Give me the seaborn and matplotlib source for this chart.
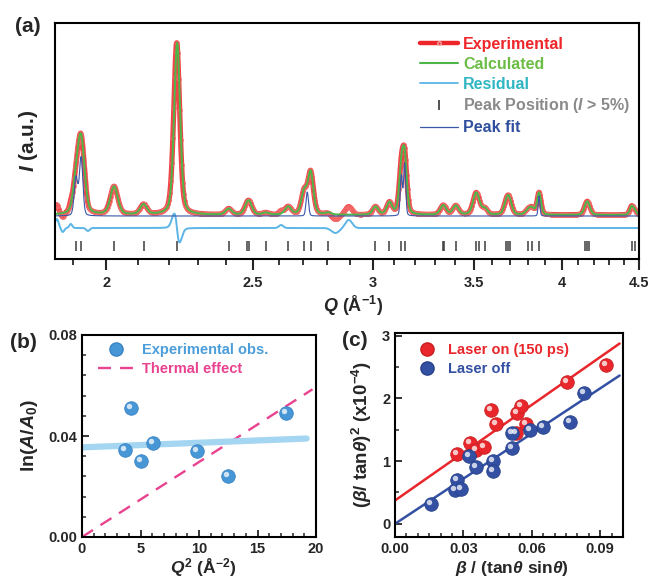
import numpy as np
import matplotlib
matplotlib.use("Agg")
import matplotlib.pyplot as plt
import matplotlib.transforms as mtrans
from matplotlib.lines import Line2D
from matplotlib.ticker import FixedLocator, FixedFormatter, NullFormatter, MultipleLocator
import seaborn as sns

# ---------------- panel (a) data: diffraction peaks ----------------
q_range = [1.85, 4.5]
peak_q = [1.910, 1.925, 2.024, 2.117, 2.2265, 2.410, 2.477, 2.487, 2.550, 2.638,
          2.703, 2.730, 2.804, 3.013, 3.078, 3.134, 3.150, 3.337, 3.346, 3.405,
          3.510, 3.525, 3.559, 3.675, 3.686, 3.697, 3.800, 3.823, 3.865, 4.147,
          4.160, 4.172, 4.449, 4.470]
peak_h = [25, 74, 28, 10, 172, 6, 6, 10, 2, 8,
          22, 42, 2, 8, 12, 41, 52, 6, 4, 9,
          19, 5, 6, 5, 11, 7, 4, 6, 22, 4,
          9, 3, 8, 4]
peak_w = [0.021, 0.024, 0.027, 0.025, 0.024, 0.027, 0.026, 0.026, 0.03, 0.03,
          0.027, 0.027, 0.03, 0.03, 0.03, 0.025, 0.025, 0.033, 0.033, 0.036,
          0.038, 0.033, 0.033, 0.033, 0.036, 0.033, 0.036, 0.036, 0.027, 0.033,
          0.033, 0.033, 0.03, 0.03]
calc_peak_q = list(peak_q)
calc_peak_q[4] = 2.2280
# features of the measured curve not in the calculation
extra_q = [1.855, 1.872, 1.895, 1.945, 2.610, 2.835, 2.893]
extra_h = [9, -4, 4, -3, 3, -5, 8]
extra_w = [0.012, 0.01, 0.01, 0.012, 0.02, 0.04, 0.035]
# individual peak-fit components
fit_q = [1.910, 1.925, 2.716, 3.134, 3.150, 3.865]
fit_h = [38, 58, 24, 40, 52, 20]
fit_w = [0.012, 0.012, 0.012, 0.012, 0.012, 0.012]
resid_offset = -13
fit_base = -1
tick_row_y = -31
a_major = [2, 2.5, 3, 3.5, 4, 4.5]
a_major_labels = ["2", "2.5", "3", "3.5", "4", "4.5"]
a_minor = [1.9, 2.1, 2.2, 2.3, 2.4, 2.6, 2.7, 2.8, 2.9, 3.1, 3.2, 3.3, 3.4,
           3.6, 3.7, 3.8, 3.9, 4.1, 4.2, 4.3, 4.4]

# ---------------- panel (b) data ----------------
b_q2 = [3.70, 4.15, 5.04, 6.09, 9.82, 12.46, 17.41]
b_ln = [0.0343, 0.0510, 0.0302, 0.0372, 0.0341, 0.0243, 0.0490]
b_fit_x = [0, 19.2]
b_fit_y = [0.0355, 0.0390]
b_th_x = [0, 19.7]
b_th_y = [0, 0.0585]

# ---------------- panel (c) data ----------------
c_on_x = [0.0271, 0.0329, 0.0354, 0.0391, 0.0419, 0.0442, 0.0530, 0.0537, 0.0553, 0.0575, 0.0754, 0.0926]
c_on_y = [1.117, 1.287, 1.180, 1.223, 1.819, 1.596, 1.447, 1.766, 1.883, 1.596, 2.255, 2.527]
c_off_x = [0.0158, 0.0263, 0.0271, 0.0288, 0.0326, 0.0354, 0.0429, 0.0432, 0.0512, 0.0512,
           0.0590, 0.0651, 0.0768, 0.0830]
c_off_y = [0.319, 0.532, 0.702, 0.553, 1.074, 0.899, 0.995, 0.835, 1.447, 1.207,
           1.489, 1.537, 1.617, 2.085]
c_on_fit_x = [0, 0.0985]
c_on_fit_y = [0.372, 2.872]
c_off_fit_x = [0, 0.0985]
c_off_fit_y = [0.0, 2.362]

# ---------------- style ----------------
sns.set_theme(style="ticks")
plt.rcParams["font.family"] = ["Liberation Sans", "DejaVu Sans"]
plt.rcParams["font.weight"] = "bold"
plt.rcParams["axes.labelweight"] = "bold"
plt.rcParams["mathtext.fontset"] = "custom"
plt.rcParams["mathtext.rm"] = "Liberation Sans:bold"
plt.rcParams["mathtext.bf"] = "Liberation Sans:bold"
plt.rcParams["mathtext.it"] = "Liberation Sans:italic:bold"
plt.rcParams["axes.linewidth"] = 1.5
plt.rcParams["axes.edgecolor"] = "black"

W, H = 651, 582
fig = plt.figure(figsize=(W / 100, H / 100), dpi=100)


def rect(l, t, r, b):
    return [l / W, 1 - b / H, (r - l) / W, (b - t) / H]


def pv(q, c, h, w, eta=0.35):
    d = (q - c) / w
    return h * ((1 - eta) * np.exp(-4 * np.log(2) * d ** 2) + eta / (1 + 4 * d ** 2))


# ---------------- panel (a) ----------------
ax = fig.add_axes(rect(55, 23, 639, 259))
grid = np.geomspace(q_range[0], q_range[1], 1800)
calc = np.zeros_like(grid)
exp_ = np.zeros_like(grid)
for c, h, w in zip(calc_peak_q, peak_h, peak_w):
    calc += pv(grid, c, h, w)
for c, h, w in zip(peak_q, peak_h, peak_w):
    exp_ += pv(grid, c, h, w)
for c, h, w in zip(extra_q, extra_h, extra_w):
    exp_ += pv(grid, c, h, w, eta=0.0)
resid = exp_ - calc + resid_offset
fitc = np.full_like(grid, fit_base)
for c, h, w in zip(fit_q, fit_h, fit_w):
    fitc += pv(grid, c, h, w, eta=0.2)

red = "#ee2529"
sns.lineplot(x=grid, y=exp_, ax=ax, color=red, lw=3.8, alpha=0.85, estimator=None, sort=False,
             marker="o", markersize=3.0, markevery=3, markerfacecolor="none",
             markeredgecolor="#f26b6b", markeredgewidth=0.6)
sns.lineplot(x=grid, y=calc, ax=ax, color="#4cb748", lw=1.4, estimator=None, sort=False)
sns.lineplot(x=grid, y=resid, ax=ax, color="#5bb5e6", lw=1.4, estimator=None, sort=False)
sns.lineplot(x=grid, y=fitc, ax=ax, color="#3a58a8", lw=0.8, estimator=None, sort=False)
sns.scatterplot(x=peak_q, y=[tick_row_y] * len(peak_q), ax=ax, marker="|", s=52,
                color="#3c3c3c", linewidth=1.1)

ax.set_xscale("log")
ax.set_xlim(*q_range)
ax.set_ylim(-44, 192)
ax.xaxis.set_major_locator(FixedLocator(a_major))
ax.xaxis.set_major_formatter(FixedFormatter(a_major_labels))
ax.xaxis.set_minor_locator(FixedLocator(a_minor))
ax.xaxis.set_minor_formatter(NullFormatter())
ax.set_yticks([])
ax.tick_params(axis="x", which="major", direction="out", length=8, width=1.5, labelsize=10.5, pad=4)
ax.tick_params(axis="x", which="minor", direction="out", length=4, width=1.3)
for t in ax.get_xticklabels():
    t.set_fontweight("bold")
ax.set_xlabel(r"$\mathit{Q}$ (Å$^{-1}$)", fontsize=13, va="center")
ax.xaxis.set_label_coords((353 - 55) / 584, (259 - 306) / 236)
ax.set_ylabel(r"$\mathit{I}$ (a.u.)", fontsize=15, va="center")
ax.yaxis.set_label_coords((29 - 55) / 584, 0.5)

handles = [
    Line2D([], [], color=red, lw=3.2, marker="o", markersize=2.5, markerfacecolor="none",
           markeredgecolor="#f5a0a0", markevery=[1]),
    Line2D([], [], color="#4cb748", lw=1.5),
    Line2D([], [], color="#5bb5e6", lw=1.3),
    Line2D([], [], color="#333333", lw=0, marker="|", markersize=7, markeredgewidth=1.2),
    Line2D([], [], color="#3a58a8", lw=0.9),
]
labels = ["Experimental", "Calculated", "Residual",
          r"Peak Position ($\mathit{I}$ > 5%)", "Peak fit"]
leg = ax.legend(handles, labels, loc="upper left", bbox_to_anchor=((420 - 55) / 584, 1 - (37 - 23) / 236),
                frameon=False, fontsize=11.5, handlelength=2.4, handletextpad=0.3,
                labelspacing=0.3, borderpad=0, borderaxespad=0,
                labelcolor=[red, "#6cbd45", "#2fb6c2", "#8a8a8a", "#2f4f9e"])

# ---------------- helpers for sphere-like markers ----------------
def spheres(axx, x, y, color, edge, s=95):
    sns.scatterplot(x=x, y=y, ax=axx, color=color, s=s, edgecolor=edge, linewidth=0.6, zorder=3)
    hl = mtrans.offset_copy(axx.transData, fig=fig, x=-2.0, y=2.0, units="dots")
    axx.scatter(x, y, s=s * 0.16, color="white", alpha=0.75, linewidths=0, transform=hl, zorder=4)


def style_small(axx):
    axx.tick_params(which="major", direction="in", length=5, width=1.3, labelsize=10.5,
                    top=False, right=False)
    axx.tick_params(which="minor", direction="in", length=3, width=1.1, top=False, right=False)
    for t in axx.get_xticklabels() + axx.get_yticklabels():
        t.set_fontweight("bold")


# ---------------- panel (b) ----------------
bx = fig.add_axes(rect(82, 335, 316, 537))
pink = "#e9428f"
sblue = "#4796d6"
sns.lineplot(x=b_th_x, y=b_th_y, ax=bx, color=pink, lw=1.7, dashes=False, linestyle=(0, (5.5, 3.8)))
sns.lineplot(x=b_fit_x, y=b_fit_y, ax=bx, color="#a5d6f1", lw=4.5)
spheres(bx, b_q2, b_ln, sblue, "#3a84c4")
bx.set_xlim(0, 20)
bx.set_ylim(0, 0.08)
bx.xaxis.set_major_locator(FixedLocator([0, 5, 10, 15, 20]))
bx.xaxis.set_minor_locator(MultipleLocator(1))
bx.yaxis.set_major_locator(FixedLocator([0, 0.04, 0.08]))
bx.yaxis.set_major_formatter(FixedFormatter(["0.00", "0.04", "0.08"]))
bx.yaxis.set_minor_locator(MultipleLocator(0.008))
style_small(bx)
bx.set_xlabel(r"$\mathit{Q}^{2}$ (Å$^{-2}$)", fontsize=12.5, va="center")
bx.xaxis.set_label_coords((203 - 82) / 234, (537 - 568) / 202)
bx.set_ylabel(r"ln($\mathit{A}$/$\mathit{A}_{0}$)", fontsize=14, va="center")
bx.yaxis.set_label_coords((30 - 82) / 234, 0.5)
hb = [Line2D([], [], lw=0, marker="o", markersize=9.5, color=sblue, markeredgecolor="#3a84c4"),
      Line2D([], [], color=pink, lw=1.7, linestyle=(0, (5.5, 3.8)))]
bx.legend(hb, ["Experimental obs.", "Thermal effect"], loc="upper left",
          bbox_to_anchor=((98 - 82) / 234, 1 - (343 - 335) / 202), frameon=False, fontsize=10.5,
          handlelength=2.4, handletextpad=0.6, labelspacing=0.35, borderpad=0, borderaxespad=0,
          labelcolor=["#4b9edb", pink])

# ---------------- panel (c) ----------------
cx = fig.add_axes(rect(395, 333, 623, 537))
cred = "#e8262b"
cblue = "#3350a3"
sns.lineplot(x=c_on_fit_x, y=c_on_fit_y, ax=cx, color=cred, lw=1.8)
sns.lineplot(x=c_off_fit_x, y=c_off_fit_y, ax=cx, color=cblue, lw=1.8)
spheres(cx, c_on_x, c_on_y, cred, "#c81e22")
spheres(cx, c_off_x, c_off_y, cblue, "#27418a")
cx.set_xlim(0, 0.1)
cx.set_ylim(-0.21, 3.04)
cx.xaxis.set_major_locator(FixedLocator([0, 0.03, 0.06, 0.09]))
cx.xaxis.set_major_formatter(FixedFormatter(["0.00", "0.03", "0.06", "0.09"]))
cx.xaxis.set_minor_locator(MultipleLocator(0.005))
cx.yaxis.set_major_locator(FixedLocator([0, 1, 2, 3]))
cx.yaxis.set_minor_locator(MultipleLocator(0.5))
style_small(cx)
cx.set_xlabel(r"$\mathit{β}$ / (tan$\mathit{θ}$ sin$\mathit{θ}$)", fontsize=12.5, va="center")
cx.xaxis.set_label_coords((512 - 395) / 228, (537 - 569) / 204)
cx.set_ylabel(r"($\mathit{β}$/ tan$\mathit{θ}$)$^{2}$ (x10$^{-4}$)", fontsize=13.5, va="center")
cx.yaxis.set_label_coords((362 - 395) / 228, 0.5)
hc = [Line2D([], [], lw=0, marker="o", markersize=9.5, color=cred, markeredgecolor="#c81e22"),
      Line2D([], [], lw=0, marker="o", markersize=9.5, color=cblue, markeredgecolor="#27418a")]
cx.legend(hc, ["Laser on (150 ps)", "Laser off"], loc="upper left",
          bbox_to_anchor=((420 - 395) / 228, 1 - (343 - 333) / 204), frameon=False, fontsize=10.5,
          handlelength=1.0, handletextpad=0.9, labelspacing=0.35, borderpad=0, borderaxespad=0,
          labelcolor=[cred, cblue])

# ---------------- panel letters ----------------
fig.text(15 / W, 1 - 26 / H, "(a)", fontsize=15, fontweight="bold", va="center", ha="left")
fig.text(10 / W, 1 - 343 / H, "(b)", fontsize=15, fontweight="bold", va="center", ha="left")
fig.text(342 / W, 1 - 340 / H, "(c)", fontsize=15, fontweight="bold", va="center", ha="left")

fig.savefig("out.png", dpi=100)
